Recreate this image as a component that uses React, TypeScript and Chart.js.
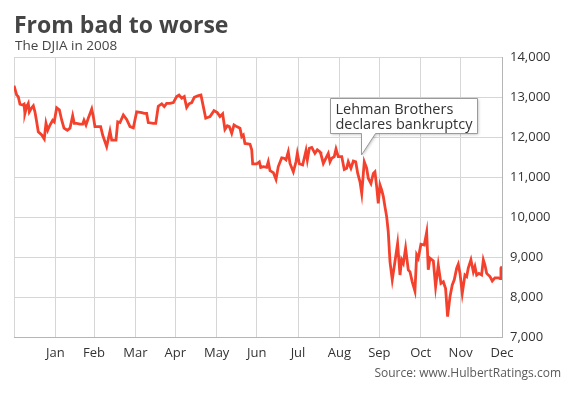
import React, { useEffect, useRef } from "react";
import { Chart, registerables } from "chart.js";

Chart.register(...registerables);

// Day of year 2008 (0 = Jan 1, 366 = Dec 31 close)
const dayOfYear = [
  0, 2, 3.2, 4.5, 6.5, 7.5, 8.2, 9.5, 10.7, 11.5,
  13, 14.5, 15.7, 17, 18.2, 20.8, 22.7, 24, 25.3, 27,
  29, 30.2, 32, 34, 35.8, 37.5, 40, 42, 44, 45.2,
  47, 49.5, 51.5, 52.5, 54, 55.7, 58.3, 59.5, 60.7, 65,
  66.5, 69.5, 72, 73.3, 76.5, 77.8, 79.5, 82, 84.5, 87,
  89.5, 92, 95.8, 97.7, 99.5, 100.7, 104.5, 106.3, 108.2, 110.8,
  112.7, 114.5, 117, 119.5, 122, 123.8, 125.8, 127.7, 129.5, 131.3,
  133.3, 135.2, 137.8, 140.2, 142, 143.8, 147, 150, 152.5, 154.5,
  156.5, 158.2, 160, 161.5, 163.3, 165, 167, 169.5, 170.8, 172,
  173.2, 177, 178.3, 179, 182, 184, 185, 187, 189.5, 190.7,
  192, 194.5, 196.5, 198.2, 200.8, 202.5, 204, 205.7, 207, 209.5,
  211.5, 212.5, 214, 216.5, 219, 220, 221.5, 223.3, 225.7, 227.5,
  229.5, 230.2, 232, 234.5, 235.7, 237, 238.3, 240.2, 241.5, 243.2,
  245.8, 247.7, 249.5, 250.7, 252.7, 254.5, 256.3, 257.8, 259.5, 260.8,
  262.7, 264.5, 265.7, 267.7, 269.5, 270.7, 272, 273.2, 274.5, 275.8,
  277, 278.2, 279.5, 280.7, 282, 283.7, 285.7, 287.7, 289.5, 290.7,
  292, 293.7, 295.7, 297, 298.7, 300.7, 302, 303.2, 305.2, 307.7,
  309.5, 310.7, 312, 314.5, 316.2, 318.2, 320.2, 322, 323.7, 325.2,
  327, 328.7, 330.2, 332, 333.2, 334.5, 336.2, 338.2, 339.5, 340.7,
  342.7, 344.5, 345.7, 347, 348.7, 350.7, 352, 353.2, 354.5, 357,
  358.7, 360.7, 363.2, 364.5, 365.2, 366,
];

const djiaClose = [
  13283, 13050, 13010, 12820, 12800, 12820, 12590, 12760, 12840, 12630,
  12720, 12780, 12630, 12380, 12130, 12050, 11950, 12340, 12170, 12300,
  12420, 12380, 12730, 12680, 12420, 12220, 12170, 12220, 12530, 12340,
  12340, 12320, 12320, 12420, 12300, 12470, 12700, 12510, 12260, 12260,
  12050, 11760, 12150, 11920, 11920, 12380, 12360, 12550, 12440, 12260,
  12230, 12630, 12610, 12590, 12590, 12360, 12340, 12340, 12770, 12830,
  12760, 12840, 12840, 12860, 13010, 13050, 12970, 13010, 12740, 12830,
  12860, 12990, 13030, 13050, 12760, 12470, 12510, 12660, 12610, 12510,
  12580, 12190, 12280, 12260, 12090, 12300, 12260, 12220, 12010, 12050,
  11840, 11820, 11680, 11330, 11330, 11380, 11240, 11260, 11240, 11380,
  11160, 11110, 10940, 11260, 11480, 11470, 11430, 11630, 11340, 11130,
  11380, 11590, 11330, 11300, 11660, 11430, 11720, 11740, 11590, 11680,
  11630, 11570, 11340, 11510, 11590, 11380, 11470, 11510, 11700, 11510,
  11510, 11190, 11220, 11380, 11220, 11400, 11380, 11090, 10880, 10590,
  11380, 11220, 10970, 10840, 11090, 11130, 10760, 10340, 10800, 10670,
  10510, 10260, 10010, 9630, 8880, 8430, 8880, 9340, 8550, 8930,
  8840, 9220, 8680, 8630, 8380, 8150, 9050, 8970, 9320, 9300,
  9620, 8680, 8970, 8900, 8260, 8800, 8340, 8380, 8210, 7510,
  8010, 8300, 8430, 8720, 8820, 8590, 8090, 8550, 8510, 8720,
  8930, 8630, 8760, 8550, 8590, 8550, 8930, 8800, 8590, 8510,
  8400, 8480, 8480, 8460, 8720, 8760,
];

// Month-end gridlines (day of year) and their labels
const monthTicks = [0, 31, 60, 91, 121, 152, 182, 213, 244, 274, 305, 335, 366];
const monthLabels = ["", "Jan", "Feb", "Mar", "Apr", "May", "Jun", "Jul", "Aug", "Sep", "Oct", "Nov", "Dec"];

const yMin = 7000;
const yMax = 14000;
const yStep = 1000;

const titleText = "From bad to worse";
const subtitleText = "The DJIA in 2008";
const sourceText = "Source: www.HulbertRatings.com";
const calloutLines = ["Lehman Brothers", "declares bankruptcy"];
const calloutDay = 260.2;
const calloutLevel = 11550;

const FONT = '"Open Sans", "DejaVu Sans", sans-serif';

const textPlugin = {
  id: "textPlugin",
  afterDraw(chart: any) {
    const ctx = chart.ctx;
    ctx.save();
    ctx.textBaseline = "alphabetic";
    ctx.textAlign = "left";
    ctx.fillStyle = "#454545";
    ctx.font = `bold 23px ${FONT}`;
    ctx.fillText(titleText, 14, 33);
    ctx.font = `13.5px ${FONT}`;
    ctx.fillStyle = "#444";
    ctx.fillText(subtitleText, 15, 50);
    ctx.textAlign = "right";
    ctx.font = `12px ${FONT}`;
    ctx.fillStyle = "#5a5a5a";
    ctx.fillText(sourceText, 561, 377);
    ctx.restore();
  },
};

const calloutPlugin = {
  id: "calloutPlugin",
  afterDatasetsDraw(chart: any) {
    const ctx = chart.ctx;
    const xs = chart.scales.x;
    const ys = chart.scales.y;
    const tx = Math.round(xs.getPixelForValue(calloutDay)) + 0.5;
    const ty = ys.getPixelForValue(calloutLevel);
    const left = tx - 31;
    const top = Math.round(ty - 57) + 0.5;
    const w = 147;
    const h = 35;
    const right = left + w;
    const bottom = top + h;
    ctx.save();
    ctx.beginPath();
    ctx.moveTo(left, top);
    ctx.lineTo(right, top);
    ctx.lineTo(right, bottom);
    ctx.lineTo(tx + 14, bottom);
    ctx.lineTo(tx, ty);
    ctx.lineTo(tx, bottom);
    ctx.lineTo(left, bottom);
    ctx.closePath();
    ctx.shadowColor = "rgba(0,0,0,0.25)";
    ctx.shadowBlur = 3;
    ctx.shadowOffsetX = 1;
    ctx.shadowOffsetY = 1;
    ctx.fillStyle = "#fff";
    ctx.fill();
    ctx.shadowColor = "transparent";
    ctx.strokeStyle = "#9a9a9a";
    ctx.lineWidth = 1;
    ctx.stroke();
    ctx.fillStyle = "#333";
    ctx.font = `14.5px ${FONT}`;
    ctx.textAlign = "left";
    ctx.textBaseline = "alphabetic";
    ctx.fillText(calloutLines[0], left + 5, top + 15);
    ctx.fillText(calloutLines[1], left + 5, top + 30);
    ctx.restore();
  },
};

export default function App() {
  const ref = useRef<HTMLCanvasElement>(null);
  useEffect(() => {
    document.body.style.margin = "0";
    if (!ref.current) return;
    const points = dayOfYear.map((d, i) => ({ x: d, y: djiaClose[i] }));
    const chart = new Chart(ref.current, {
      type: "line",
      data: {
        datasets: [
          {
            label: "DJIA",
            data: points,
            borderColor: "#f4412d",
            borderWidth: 2.8,
            pointRadius: 0,
            tension: 0,
            fill: false,
          },
        ],
      },
      options: {
        responsive: false,
        animation: false,
        layout: { padding: { left: 14, top: 57, right: 0, bottom: 0 } },
        plugins: {
          legend: { display: false },
          tooltip: { enabled: false },
          title: { display: false },
        },
        scales: {
          x: {
            type: "linear",
            min: 0,
            max: 366,
            afterBuildTicks: (s: any) => {
              s.ticks = monthTicks.map((v) => ({ value: v }));
            },
            afterFit: (s: any) => {
              s.height = 61;
            },
            ticks: {
              autoSkip: false,
              maxRotation: 0,
              padding: 8,
              color: "#333",
              font: { family: FONT, size: 13 },
              callback: (_v: any, i: number) => monthLabels[i],
            },
            grid: { color: "#d6d6d6", drawTicks: false, lineWidth: 1 },
            border: { display: true, color: "#b5b5b5" },
          },
          y: {
            position: "right",
            min: yMin,
            max: yMax,
            afterFit: (s: any) => {
              s.width = 67;
            },
            ticks: {
              stepSize: yStep,
              padding: 8,
              color: "#333",
              font: { family: FONT, size: 13 },
              callback: (v: any) => Number(v).toLocaleString("en-US"),
            },
            grid: { color: "#d6d6d6", drawTicks: false, lineWidth: 1 },
            border: { display: true, color: "#b5b5b5" },
          },
        },
      },
      plugins: [calloutPlugin, textPlugin],
    } as any);
    return () => chart.destroy();
  }, []);
  return (
    <div style={{ position: "absolute", left: 0, top: 0, width: 569, height: 398, background: "#fff" }}>
      <canvas ref={ref} width={569} height={398} style={{ display: "block", width: 569, height: 398 }} />
    </div>
  );
}
